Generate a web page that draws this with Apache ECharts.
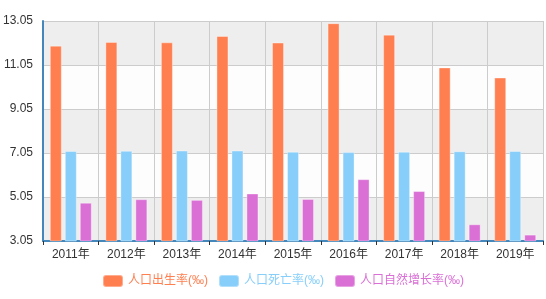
<!DOCTYPE html>
<html><head><meta charset="utf-8">
<script src="https://cdn.jsdelivr.net/npm/echarts@6/dist/echarts.min.js"></script>
<style>html,body{margin:0;padding:0;background:#fff}#c{width:546px;height:299px}</style>
</head><body><div id="c"></div>
<script>
var categories = ['2011年','2012年','2013年','2014年','2015年','2016年','2017年','2018年','2019年'];
var seriesNames = ['人口出生率(‰)','人口死亡率(‰)','人口自然增长率(‰)'];
var birthRate = [11.93, 12.10, 12.08, 12.37, 12.07, 12.95, 12.43, 10.94, 10.48];
var deathRate = [7.14, 7.15, 7.16, 7.16, 7.11, 7.09, 7.11, 7.13, 7.14];
var growthRate = [4.79, 4.95, 4.92, 5.21, 4.96, 5.86, 5.32, 3.81, 3.34];
var colors = ['#ff7f50', '#87cefa', '#da70d6'];
var font = '"Liberation Sans", Arial, "Noto Sans CJK SC", sans-serif';
var chart = echarts.init(document.getElementById('c'));
function mk(name, data, i) {
  return {
    name: name, type: 'bar', data: data, barWidth: 12, barGap: '25%',
    itemStyle: { color: colors[i], borderColor: 'rgba(255,255,255,0.35)', borderWidth: 1 },
    animation: false
  };
}
chart.setOption({
  animation: false,
  color: colors,
  textStyle: { fontFamily: font },
  grid: { left: 42, right: 3, top: 21, bottom: 58, containLabel: false },
  legend: {
    bottom: 6, left: 97, itemWidth: 20, itemHeight: 12, itemGap: 10,
    textStyle: { fontSize: 12, fontFamily: font },
    data: seriesNames.map(function (n, i) { return { name: n, textStyle: { color: colors[i] } }; })
  },
  xAxis: {
    type: 'category', data: categories,
    axisLine: { lineStyle: { color: '#48b', width: 2 } },
    axisTick: { show: true, alignWithLabel: false, lineStyle: { color: '#333' }, length: 4 },
    axisLabel: { color: '#333', fontSize: 12, margin: 8 },
    splitLine: { show: true, lineStyle: { color: '#ccc' } }
  },
  yAxis: {
    type: 'value', min: 3.05, max: 13.05, interval: 2,
    axisLine: { show: true, lineStyle: { color: '#48b', width: 2 } },
    axisTick: { show: false },
    axisLabel: { color: '#333', fontSize: 12, margin: 10, formatter: function (v) { return v.toFixed(2); } },
    splitLine: { show: true, lineStyle: { color: '#ccc' } },
    splitArea: { show: true, areaStyle: { color: ['rgba(200,200,200,0.3)', 'rgba(250,250,250,0.3)'] } }
  },
  series: [mk(seriesNames[0], birthRate, 0), mk(seriesNames[1], deathRate, 1), mk(seriesNames[2], growthRate, 2)]
});
</script></body></html>
